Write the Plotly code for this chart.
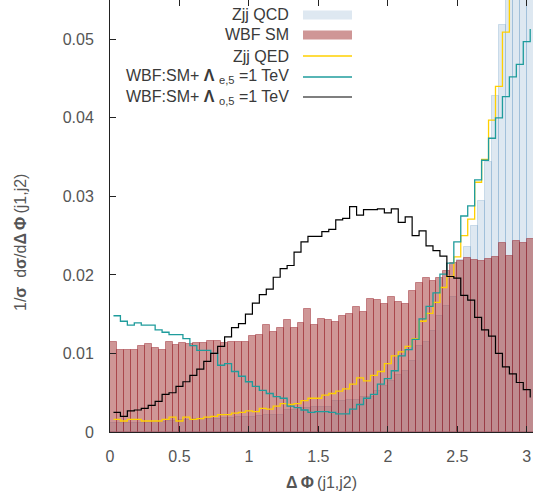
import plotly.graph_objects as go

# ---------------- data ----------------
BIN_WIDTH = 0.05  # width of each Delta-Phi bin

zjj_qcd = [0.0012, 0.0011, 0.0012, 0.0012, 0.0011, 0.0012, 0.0013, 0.0013, 0.0014, 0.0014,
           0.0015, 0.0015, 0.0016, 0.0016, 0.0017, 0.0017, 0.0018, 0.0018, 0.0019, 0.0019,
           0.0019, 0.0020, 0.0022, 0.0022, 0.0022, 0.0028, 0.0028, 0.0030, 0.0030, 0.0032,
           0.0032, 0.0032, 0.0039, 0.0039, 0.0041, 0.0041, 0.0045, 0.0045, 0.0052, 0.0058,
           0.0065, 0.0072, 0.0078, 0.0090, 0.0110, 0.0115, 0.0128, 0.0148, 0.0160, 0.0172,
           0.0219, 0.0236, 0.0262, 0.0294, 0.0344, 0.0428, 0.0518, 0.0600, 0.0660, 0.0720,
           0.0780]

wbf_sm = [0.0114, 0.0104, 0.0104, 0.0105, 0.0109, 0.0112, 0.0107, 0.0105, 0.0114, 0.0111,
          0.0113, 0.0112, 0.0113, 0.0113, 0.0116, 0.0116, 0.0113, 0.0114, 0.0114, 0.0114,
          0.0122, 0.0124, 0.0136, 0.0127, 0.0133, 0.0143, 0.0133, 0.0139, 0.0156, 0.0136,
          0.0144, 0.0143, 0.0140, 0.0148, 0.0150, 0.0159, 0.0153, 0.0169, 0.0168, 0.0163,
          0.0172, 0.0166, 0.0163, 0.0180, 0.0190, 0.0196, 0.0192, 0.0196, 0.0205, 0.0215,
          0.0218, 0.0221, 0.0219, 0.0218, 0.0220, 0.0223, 0.0240, 0.0224, 0.0243, 0.0240,
          0.0246]

zjj_qed = [0.0016, 0.0014, 0.0016, 0.0016, 0.0014, 0.0014, 0.0014, 0.0016, 0.0019, 0.0014,
           0.0019, 0.0016, 0.0017, 0.0019, 0.0020, 0.0022, 0.0022, 0.0024, 0.0025, 0.0027,
           0.0026, 0.0030, 0.0029, 0.0033, 0.0036, 0.0035, 0.0036, 0.0040, 0.0043, 0.0043,
           0.0047, 0.0049, 0.0052, 0.0055, 0.0061, 0.0069, 0.0065, 0.0072, 0.0077, 0.0087,
           0.0097, 0.0102, 0.0109, 0.0119, 0.0141, 0.0151, 0.0165, 0.0184, 0.0198, 0.0223,
           0.0250, 0.0271, 0.0318, 0.0347, 0.0397, 0.0440, 0.0509, 0.0580, 0.0640, 0.0700,
           0.0760]

wbf_lambda_e5 = [0.0148, 0.0141, 0.0136, 0.0139, 0.0136, 0.0136, 0.0130, 0.0127, 0.0124, 0.0124,
                 0.0119, 0.0110, 0.0104, 0.0104, 0.0100, 0.0085, 0.0087, 0.0077, 0.0071, 0.0064,
                 0.0058, 0.0053, 0.0049, 0.0045, 0.0043, 0.0033, 0.0031, 0.0028, 0.0025, 0.0026,
                 0.0026, 0.0025, 0.0023, 0.0023, 0.0029, 0.0035, 0.0043, 0.0048, 0.0061, 0.0068,
                 0.0078, 0.0097, 0.0105, 0.0118, 0.0144, 0.0160, 0.0177, 0.0201, 0.0215, 0.0242,
                 0.0275, 0.0288, 0.0321, 0.0346, 0.0374, 0.0400, 0.0427, 0.0452, 0.0468, 0.0497,
                 0.0513]

wbf_lambda_o5 = [0.0025, 0.0020, 0.0027, 0.0028, 0.0030, 0.0034, 0.0039, 0.0048, 0.0050, 0.0058,
                 0.0064, 0.0072, 0.0080, 0.0090, 0.0100, 0.0109, 0.0121, 0.0133, 0.0138, 0.0150,
                 0.0164, 0.0175, 0.0182, 0.0197, 0.0208, 0.0212, 0.0229, 0.0242, 0.0249, 0.0249,
                 0.0255, 0.0258, 0.0270, 0.0272, 0.0287, 0.0276, 0.0283, 0.0283, 0.0284, 0.0279,
                 0.0284, 0.0267, 0.0274, 0.0250, 0.0256, 0.0237, 0.0231, 0.0224, 0.0198, 0.0196,
                 0.0174, 0.0168, 0.0146, 0.0130, 0.0122, 0.0100, 0.0083, 0.0074, 0.0063, 0.0054,
                 0.0044]

x_tick_vals = [0, 0.5, 1, 1.5, 2, 2.5, 3]
x_tick_text = ["0", "0.5", "1", "1.5", "2", "2.5", "3"]
y_tick_vals = [0, 0.01, 0.02, 0.03, 0.04, 0.05]
y_tick_text = ["0", "0.01", "0.02", "0.03", "0.04", "0.05"]

legend_labels = ["Zjj QCD", "WBF SM", "Zjj QED",
                 "WBF:SM+ <b>Λ</b> <sub>e,5</sub> =1 TeV",
                 "WBF:SM+ <b>Λ</b> <sub>o,5</sub> =1 TeV"]

y_title = "1/<b>σ</b>  d<b>σ</b>/d<b>Δ</b>\u2009<b>Φ</b>\u2009(j1,j2)"
x_title = "<b>Δ</b>\u2009<b>Φ</b>\u2009(j1,j2)"

# ---------------- styling ----------------
FONT = "Liberation Sans, Arial, sans-serif"
QCD_FILL = "rgba(70,130,180,0.18)"
QCD_EDGE = "rgba(70,130,180,0.22)"
WBF_FILL = "rgba(160,45,45,0.50)"
WBF_EDGE = "rgba(150,30,40,0.45)"
QED_COL = "#ffd000"
LE_COL = "#1f9c9c"
LO_COL = "#000000"
TXT_COL = "#555555"

n = len(wbf_sm)
centers = [(i + 0.5) * BIN_WIDTH for i in range(n)]

fig = go.Figure()
fig.add_trace(go.Bar(x=centers, y=zjj_qcd, width=BIN_WIDTH,
                     marker=dict(color=QCD_FILL, line=dict(color=QCD_EDGE, width=1)),
                     showlegend=False, hoverinfo="skip"))
fig.add_trace(go.Bar(x=centers, y=wbf_sm, width=BIN_WIDTH,
                     marker=dict(color=WBF_FILL, line=dict(color=WBF_EDGE, width=1)),
                     showlegend=False, hoverinfo="skip"))
for vals, col, w in [(zjj_qed, QED_COL, 1.3), (wbf_lambda_e5, LE_COL, 1.3),
                     (wbf_lambda_o5, LO_COL, 1.2)]:
    fig.add_trace(go.Scatter(x=centers, y=vals, mode="lines",
                             line=dict(color=col, width=w, shape="hv"),
                             showlegend=False, hoverinfo="skip"))

# ---------------- layout ----------------
L, R, T, B = 110, 0, 0, 68
W, H = 533, 500
pw, ph = W - L - R, H - T - B


def px(xp):
    return (xp - L) / pw


def py(yp):
    return (H - B - yp) / ph


fig.update_layout(
    width=W, height=H,
    margin=dict(l=L, r=R, t=T, b=B, pad=0),
    paper_bgcolor="white", plot_bgcolor="white",
    barmode="overlay", bargap=0,
    font=dict(family=FONT, size=16, color=TXT_COL),
    showlegend=False,
    xaxis=dict(range=[0, 3.045], tickvals=x_tick_vals, ticktext=x_tick_text,
               ticks="inside", ticklen=6, tickcolor="#222222", tickwidth=1,
               showline=True, linecolor="#222222", linewidth=1, mirror="ticks",
               showgrid=False, zeroline=False, ticklabelstandoff=10,
               tickfont=dict(family=FONT, size=16, color=TXT_COL)),
    yaxis=dict(range=[0, 0.055], tickvals=y_tick_vals, ticktext=y_tick_text,
               ticks="inside", ticklen=6, tickcolor="#222222", tickwidth=1,
               showline=True, linecolor="#222222", linewidth=1, mirror=False,
               showgrid=False, zeroline=False, ticklabelstandoff=12,
               tickfont=dict(family=FONT, size=16, color=TXT_COL)),
)

annotations = [
    dict(text=y_title, xref="paper", yref="paper",
         x=px(20), y=py(243), textangle=-90, showarrow=False,
         xanchor="center", yanchor="middle",
         font=dict(family=FONT, size=16, color=TXT_COL)),
    dict(text=x_title, xref="paper", yref="paper",
         x=0.5, y=py(482), showarrow=False, xanchor="center", yanchor="middle",
         font=dict(family=FONT, size=16, color=TXT_COL)),
]
row_y = [15, 35, 56, 77, 97]
for lab, ry in zip(legend_labels, row_y):
    annotations.append(dict(text=lab, xref="paper", yref="paper",
                            x=px(291), y=py(ry), showarrow=False,
                            xanchor="right", yanchor="middle",
                            font=dict(family=FONT, size=16, color="#3a3a3a")))
fig.update_layout(annotations=annotations)

shapes = [
    dict(type="rect", xref="paper", yref="paper", x0=px(303), x1=px(352),
         y0=py(row_y[0] + 4.5), y1=py(row_y[0] - 4.5),
         fillcolor=QCD_FILL, line=dict(width=0)),
    dict(type="rect", xref="paper", yref="paper", x0=px(303), x1=px(352),
         y0=py(row_y[1] + 4.5), y1=py(row_y[1] - 4.5),
         fillcolor=WBF_FILL, line=dict(width=0)),
]
for ry, col, w in [(row_y[2], QED_COL, 1.3), (row_y[3], LE_COL, 1.3), (row_y[4], LO_COL, 1.2)]:
    shapes.append(dict(type="line", xref="paper", yref="paper", x0=px(303), x1=px(352),
                       y0=py(ry), y1=py(ry), line=dict(color=col, width=w)))
fig.update_layout(shapes=shapes)

fig.write_html("out.html")
